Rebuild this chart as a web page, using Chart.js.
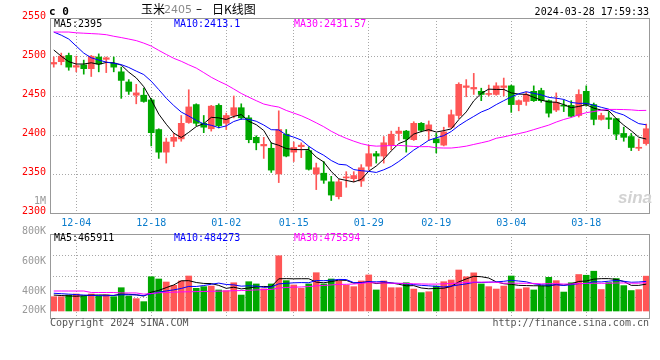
<!DOCTYPE html>
<html>
<head>
<meta charset="utf-8">
<script src="https://cdn.jsdelivr.net/npm/chart.js@4.4.1/dist/chart.umd.min.js"></script>
<style>
  html, body { margin:0; padding:0; background:#fff; }
  #wrap { position:relative; width:660px; height:360px; overflow:hidden; background:#fff; }
  #wrap canvas { position:absolute; left:0; top:0; }
  .t { position:absolute; font-family:'DejaVu Sans Mono', monospace; font-size:10px; line-height:12px; white-space:pre; color:#000; }
  .cjk { font-family:'Noto Sans CJK SC', sans-serif; font-size:12px; line-height:16px; }
</style>
</head>
<body>
<div id="wrap">
  <canvas id="priceCanvas" width="660" height="360"></canvas>
  <canvas id="volCanvas" width="660" height="360"></canvas>

  <div class="t" style="left:49px;top:6px;font-size:11px;font-weight:bold;">c 0</div>
  <div class="t cjk" style="left:141px;top:1px;">玉米</div>
  <div class="t" style="left:164px;top:3px;color:#8a8a8a;font-family:'DejaVu Sans',sans-serif;font-size:11px;line-height:14px;">2405</div>
  <div class="t" style="left:196px;top:2px;font-family:'DejaVu Sans',sans-serif;font-size:12px;line-height:14px;">–</div>
  <div class="t cjk" style="left:212px;top:1px;">日K线图</div>
  <div class="t" style="right:11px;top:6px;">2024-03-28 17:59:33</div>

  <div class="t" style="left:54px;top:18px;">MA5:2395</div>
  <div class="t" style="left:174px;top:18px;color:#0000ff;">MA10:2413.1</div>
  <div class="t" style="left:294px;top:18px;color:#ff00ff;">MA30:2431.57</div>

  <div class="t" style="right:614px;top:195px;color:#999;">1M</div>

  <div class="t" style="left:54px;top:232px;">MA5:465911</div>
  <div class="t" style="left:174px;top:232px;color:#0000ff;">MA10:484273</div>
  <div class="t" style="left:294px;top:232px;color:#ff00ff;">MA30:475594</div>

  <div class="t" style="right:614px;top:304px;color:#999;">200K</div>

  <div class="t" style="left:50px;top:317px;color:#555;">Copyright 2024 SINA.COM</div>
  <div class="t" style="right:11px;top:317px;color:#555;">http://finance.sina.com.cn</div>

  <div class="t" style="left:618px;top:189px;font-family:'Liberation Sans',sans-serif;font-style:italic;font-weight:bold;font-size:17px;line-height:18px;color:#d2d2d2;">sina</div>
</div>

<script>
// ---------------- data ----------------
const dates = ['11-29','11-30','12-01','12-04','12-05','12-06','12-07','12-08','12-11','12-12',
  '12-13','12-14','12-15','12-18','12-19','12-20','12-21','12-22','12-25','12-26',
  '12-27','12-28','12-29','01-02','01-03','01-04','01-05','01-08','01-09','01-10',
  '01-11','01-12','01-15','01-16','01-17','01-18','01-19','01-22','01-23','01-24',
  '01-25','01-26','01-29','01-30','01-31','02-01','02-02','02-05','02-06','02-07',
  '02-08','02-19','02-20','02-21','02-22','02-23','02-26','02-27','02-28','02-29',
  '03-01','03-04','03-05','03-06','03-07','03-08','03-11','03-12','03-13','03-14',
  '03-15','03-18','03-19','03-20','03-21','03-22','03-25','03-26','03-27','03-28'];

const tickLabels = ['12-04','12-18','01-02','01-15','01-29','02-19','03-04','03-18'];

const opens = [2491,2494,2502,2487,2490,2485,2500,2497,2492,2481,
  2468,2451,2451,2445,2407,2378,2392,2395,2416,2439,
  2415,2408,2438,2415,2425,2435,2422,2397,2386,2383,
  2350,2401,2378,2385,2380,2350,2351,2340,2321,2345,
  2344,2341,2360,2376,2373,2387,2402,2405,2394,2415,
  2405,2395,2387,2410,2425,2461,2459,2456,2452,2452,
  2461,2463,2439,2443,2456,2457,2444,2432,2438,2438,
  2425,2456,2439,2420,2422,2421,2402,2398,2383,2389];

const closes = [2493,2501,2487,2489,2485,2501,2491,2499,2487,2470,
  2456,2454,2443,2403,2378,2391,2397,2415,2436,2415,
  2410,2437,2412,2425,2435,2422,2394,2390,2388,2355,
  2407,2373,2384,2387,2356,2358,2342,2323,2340,2346,
  2348,2358,2376,2373,2390,2401,2405,2395,2415,2406,
  2413,2390,2404,2426,2465,2463,2461,2452,2453,2463,
  2463,2439,2444,2452,2444,2444,2428,2442,2437,2424,
  2452,2439,2420,2425,2420,2401,2397,2384,2384,2408];

const highs = [2500,2505,2505,2501,2496,2502,2504,2500,2500,2487,
  2471,2465,2460,2447,2408,2396,2402,2425,2458,2440,
  2425,2438,2440,2428,2450,2440,2425,2399,2397,2390,
  2431,2407,2391,2390,2385,2364,2366,2347,2343,2353,
  2353,2362,2387,2379,2398,2405,2410,2406,2417,2416,
  2418,2402,2410,2432,2467,2471,2479,2460,2464,2467,
  2473,2464,2445,2455,2463,2460,2445,2454,2445,2444,
  2458,2463,2441,2428,2430,2421,2410,2402,2395,2414];

const lows = [2487,2490,2483,2481,2478,2475,2481,2480,2481,2447,
  2452,2440,2442,2386,2370,2364,2385,2392,2415,2412,
  2403,2405,2409,2407,2422,2420,2390,2381,2370,2352,
  2339,2372,2366,2371,2355,2330,2338,2316,2318,2333,
  2340,2334,2355,2364,2364,2381,2393,2378,2393,2404,
  2393,2377,2386,2409,2421,2449,2452,2444,2450,2451,
  2450,2429,2431,2438,2443,2442,2423,2430,2430,2423,
  2423,2437,2413,2419,2408,2394,2392,2380,2380,2387];

const ma5 = [2509,2501,2494,2491,2491.0,2492.6,2490.6,2493.0,2492.6,2489.6,
  2480.6,2473.2,2462.0,2445.2,2426.8,2413.8,2402.4,2396.8,2403.4,2410.8,
  2414.6,2422.6,2422.0,2419.8,2423.8,2426.2,2417.6,2413.2,2405.8,2389.8,
  2386.8,2382.6,2381.4,2381.2,2381.4,2371.6,2365.4,2353.2,2343.8,2341.8,
  2339.8,2343.0,2353.6,2360.2,2369.0,2379.6,2389.0,2392.8,2401.2,2404.4,
  2406.8,2403.8,2405.6,2407.8,2419.6,2429.6,2443.8,2453.4,2458.8,2458.4,
  2458.4,2454.0,2452.4,2452.2,2448.4,2444.6,2442.4,2442.0,2439.0,2435.0,
  2436.6,2438.8,2434.4,2432.0,2431.2,2421.0,2412.6,2405.4,2397.2,2394.8];

const ma10 = [2532,2528,2523,2514,2505,2499,2496,2493.5,2492,2490.3,
  2486.6,2481.9,2477.5,2468.9,2458.2,2447.2,2437.8,2429.4,2424.3,2418.8,
  2414.2,2412.5,2409.4,2411.6,2417.3,2420.4,2420.1,2417.6,2412.8,2406.8,
  2406.5,2400.1,2397.3,2393.5,2385.6,2379.2,2374.0,2367.3,2362.5,2361.6,
  2355.7,2354.2,2353.4,2352.0,2355.4,2359.7,2366.0,2373.2,2380.7,2386.7,
  2393.2,2396.4,2399.2,2404.5,2412.0,2418.2,2423.8,2429.5,2433.3,2439.0,
  2444.0,2448.9,2452.9,2455.5,2453.4,2451.5,2448.2,2447.2,2445.6,2441.7,
  2440.6,2440.6,2438.2,2435.5,2433.1,2428.8,2425.7,2419.9,2414.6,2413.1];

const ma30 = [2532,2532,2532,2531,2530.5,2530,2529.5,2528.6,2526.6,2524.9,
  2523,2521,2517.8,2514,2508.5,2503.3,2498.3,2494.5,2490,2485.8,
  2480,2474,2469,2464.5,2459,2453.3,2448.5,2444,2439.7,2437.5,
  2435.8,2431.5,2428.1,2424.7,2420.4,2415.6,2410.6,2404.8,2399.9,2395.7,
  2392.1,2388.9,2386.7,2385.7,2386.1,2386.4,2386.7,2386.0,2385.3,2385.0,
  2385.1,2383.6,2383.3,2383.3,2384.3,2385.7,2387.9,2390.0,2392.2,2395.8,
  2397.6,2399.8,2401.8,2404.0,2406.9,2409.8,2412.7,2416.6,2419.9,2422.5,
  2425.9,2428.6,2430.1,2431.8,2432.8,2432.8,2432.6,2432.2,2431.4,2431.57];

// volume, in thousand lots
const volumeK = [382,382,393,400,387,400,387,393,382,442,
  387,369,349,515,500,480,458,487,520,438,
  449,453,427,422,475,393,482,467,435,467,
  655,489,460,438,467,542,467,500,487,458,
  449,487,527,427,487,442,442,475,433,409,
  415,453,482,493,560,515,541,467,449,433,
  453,520,433,442,427,453,511,489,413,475,
  530,525,552,430,476,503,456,423,429,519];

const volMa5 = [393,390,387,385,388.8,392.4,393.4,393.4,389.8,400.8,
  398.2,394.6,385.8,412.4,424,442.6,460.4,488,489,476.6,
  470.4,469.4,457.4,437.8,445.2,434,439.8,447.8,450.4,448.8,
  501.2,502.6,501.2,501.8,501.8,479.2,474.8,482.8,492.6,490.8,
  472.2,476.2,481.6,469.6,475.4,474,465,454.6,455.8,440.2,
  434.8,437,438.4,450.4,480.6,500.6,518.2,515.2,506.4,481,
  468.6,464.4,457.6,456.2,455,455,453.2,464.4,458.6,468.2,
  483.6,486.4,499,502.4,502.6,497.2,483.4,457.6,457.4,465.9];

const volMa10 = [405,402,399,396,393,391,389,388,391,394.8,
  395.3,394,389.6,401.1,412.4,420.4,427.5,436.9,450.7,450.3,
  456.5,464.9,472.7,463.4,460.9,452.2,454.6,452.6,444.1,447,
  467.6,471.2,474.5,476.1,475.3,490.2,488.7,492,497.2,496.3,
  475.7,475.5,482.2,481.1,483.1,473.1,470.6,468.1,462.7,457.8,
  454.4,451,446.5,453.1,460.4,467.7,477.6,476.8,478.4,480.8,
  484.6,491.3,486.4,481.3,468,461.8,458.8,461,457.4,461.6,
  469.3,469.8,481.7,480.5,485.4,490.4,484.9,478.3,479.9,484.3];

const volMa30 = [420,420,420,420,420,410,410,410,410,407,
  407,407,399,403,408,410,412,414,415,416,
  417,418,419,420,422,423,425,427,429,430.7,
  439.8,443.4,445.6,446.9,449.5,454.3,456.9,460.5,464,464.5,
  466.6,470.5,476.5,473.5,473.1,471.8,471.3,470.9,468,467,
  465.9,465.9,467.7,470.1,472.9,477,479,479,479.4,478.3,
  471.6,472.6,471.7,471.8,470.5,467.5,469,468.6,466.2,466.7,
  469.4,470.7,471.5,471.6,471.3,473.3,473.8,472,471.9,475.6];

const volumeLabelTicks = [400, 600, 800];

// ---------------- styling / helpers ----------------
const UP = '#ff5656', DOWN = '#00a800';
const GRID = '#a8a8a8', FRAME = '#999999';
const candleColor = (c) => closes[c.dataIndex] >= opens[c.dataIndex] ? UP : DOWN;
const pts = (arr) => arr.map((v, i) => ({ x: i, y: v }));
const tickIdx = tickLabels.map(l => dates.indexOf(l));

Chart.defaults.font.family = "'DejaVu Sans Mono', monospace";
Chart.defaults.font.size = 10;

const framePlugin = {
  id: 'frame',
  afterDraw(chart) {
    const a = chart.chartArea, ctx = chart.ctx;
    ctx.save();
    ctx.strokeStyle = FRAME;
    ctx.lineWidth = 1;
    ctx.setLineDash([]);
    ctx.strokeRect(a.left + 0.5, a.top + 0.5, a.right - a.left - 1, a.bottom - a.top);
    ctx.restore();
  }
};

function xAxis(showLabels) {
  return {
    type: 'linear',
    min: -0.5,
    max: dates.length - 0.5,
    offset: false,
    afterBuildTicks: (s) => { s.ticks = tickIdx.map(v => ({ value: v })); },
    afterFit: (s) => { s.height = showLabels ? 19 : 0; },
    grid: { color: GRID, lineWidth: 1, drawTicks: false, offset: false },
    border: { display: false, dash: [1, 2] },
    ticks: {
      display: showLabels, autoSkip: false, maxRotation: 0, minRotation: 0,
      color: '#0a7ccc', padding: 4, font: { size: 10 },
      callback: (v) => dates[v]
    }
  };
}

function lineDs(label, arr, color, yAxisID) {
  return { type: 'line', label, data: pts(arr), yAxisID, borderColor: color, borderWidth: 1,
           pointRadius: 0, pointHoverRadius: 0, fill: false, tension: 0, order: 0 };
}

// ---------------- price chart ----------------
new Chart(document.getElementById('priceCanvas'), {
  type: 'bar',
  data: {
    datasets: [
      { label: 'wick', data: lows.map((l, i) => ({ x: i, y: [l, highs[i]] })), backgroundColor: candleColor,
        barThickness: 1, grouped: false, order: 3, yAxisID: 'y' },
      { label: 'body', data: opens.map((o, i) => ({ x: i, y: [o, closes[i]] })), backgroundColor: candleColor,
        barThickness: 6, minBarLength: 1, grouped: false, order: 2, yAxisID: 'y' },
      lineDs('MA30', ma30, '#ff00ff', 'y'),
      lineDs('MA10', ma10, '#0000ff', 'y'),
      lineDs('MA5', ma5, '#000000', 'y')
    ]
  },
  options: {
    responsive: false, animation: false, devicePixelRatio: 1, events: [],
    layout: { padding: { top: 18, right: 10, bottom: 128, left: 0 } },
    plugins: { legend: { display: false }, tooltip: { enabled: false } },
    scales: {
      x: xAxis(true),
      y: {
        type: 'linear', position: 'left', min: 2300, max: 2550,
        afterFit: (s) => { s.width = 50; },
        grid: { drawTicks: false,
                color: (c) => (c.tick && (c.tick.value === 2300 || c.tick.value === 2550)) ? 'rgba(0,0,0,0)' : GRID },
        border: { display: false, dash: [1, 2] },
        ticks: { stepSize: 50, color: '#ff0000', padding: 4, labelOffset: -1.5, font: { size: 10 },
                 callback: (v) => String(v) }
      }
    }
  },
  plugins: [framePlugin]
});

// ---------------- volume chart ----------------
new Chart(document.getElementById('volCanvas'), {
  type: 'bar',
  data: {
    datasets: [
      { label: 'volume', data: pts(volumeK), backgroundColor: candleColor, barThickness: 6,
        base: 286.7, grouped: false, order: 2, yAxisID: 'yv' },
      lineDs('VMA30', volMa30, '#ff00ff', 'yv'),
      lineDs('VMA10', volMa10, '#0000ff', 'yv'),
      lineDs('VMA5', volMa5, '#000000', 'yv')
    ]
  },
  options: {
    responsive: false, animation: false, devicePixelRatio: 1, events: [],
    layout: { padding: { top: 234, right: 10, bottom: 42, left: 0 } },
    plugins: { legend: { display: false }, tooltip: { enabled: false } },
    scales: {
      x: xAxis(false),
      yv: {
        type: 'linear', position: 'left', min: 240, max: 800,
        afterBuildTicks: (s) => {
          const step = (s.max - s.min) / 4;
          s.ticks = [1, 2, 3].map(k => ({ value: s.min + k * step }));
        },
        afterFit: (s) => { s.width = 0; },
        grid: { color: GRID, drawTicks: false },
        border: { display: false, dash: [1, 2] },
        ticks: { display: false }
      },
      yl: {
        type: 'linear', position: 'left', min: 240, max: 800,
        afterBuildTicks: (s) => { s.ticks = volumeLabelTicks.map(v => ({ value: v })); },
        afterFit: (s) => { s.width = 50; },
        grid: { display: false, drawTicks: false },
        border: { display: false },
        ticks: { color: '#999999', padding: 4, labelOffset: -3, font: { size: 10 },
                 callback: (v) => v + 'K' }
      }
    }
  },
  plugins: [framePlugin]
});
</script>
</body>
</html>
